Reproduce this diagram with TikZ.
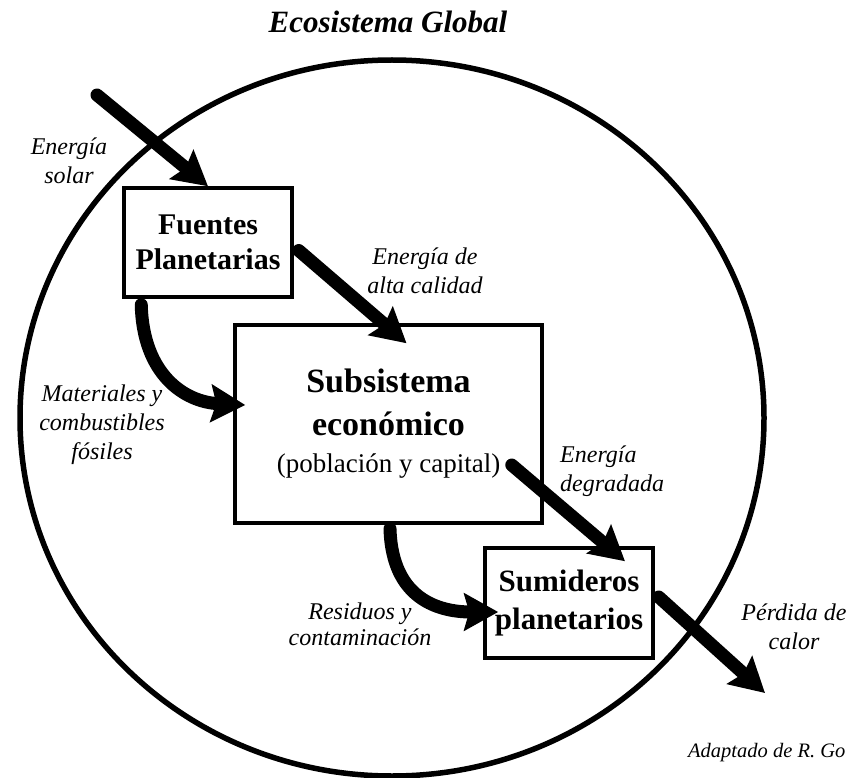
\documentclass[tikz,border=0pt]{standalone}
\usepackage{fontspec}
\setmainfont{Liberation Serif}
\usetikzlibrary{arrows.meta,calc,shapes.geometric}
\begin{document}
\begin{tikzpicture}[x=1pt,y=-1pt,
  box/.style={draw,line width=3.5pt,align=center,inner sep=0pt,font=\bfseries},
  lbl/.style={align=center,font=\itshape\fontsize{24}{29}\selectfont,inner sep=0pt},
  flow/.style={line width=13pt,line cap=round,-{Stealth[length=34pt,width=37pt,inset=5pt]}}]
\useasboundingbox (0,0) rectangle (851,778);
% global ecosystem
\node (eco) [draw,ellipse,line width=5.5pt,minimum width=744pt,minimum height=716pt,inner sep=0pt] at (392,418) {};
\node (title) [font=\bfseries\itshape\fontsize{31}{36}\selectfont,anchor=base] at (388,33) {Ecosistema Global};
% boxes
\node (fuentes) [box,minimum width=168pt,minimum height=109pt,font=\bfseries\fontsize{30}{35}\selectfont] at (208,242.5) {Fuentes\\Planetarias};
\node (subs) [box,minimum width=307pt,minimum height=198pt,font=\bfseries\fontsize{34}{43}\selectfont] at (388.5,424)
  {Subsistema\\económico\\[-6pt]{\mdseries\fontsize{27}{32}\selectfont (población y capital)}};
\node (sum) [box,minimum width=168pt,minimum height=110pt,font=\bfseries\fontsize{31}{38}\selectfont] at (569,603) {Sumideros\\planetarios};
% free ends
\coordinate (sol) at (97,95);
\coordinate (calor) at (765,693);
% flows
\draw[flow] (sol) -- (fuentes.north);
\draw[flow] ($(fuentes.east)+(5,8)$) -- ($(subs.north)+(18,20)$);
\draw[flow] ($(fuentes.south west)+(19,6)$) .. controls (143,375) and (185,402) .. ($(subs.west)+(12,-19)$);
\draw[flow] ($(subs.east)+(-32,41)$) -- ($(sum.north)+(56,15)$);
\draw[flow] ($(subs.south)+(1.5,4)$) .. controls (392,600) and (440,612) .. ($(sum.west)+(15,9)$);
\draw[flow] ($(sum.east)+(4,-6)$) -- (calor);
% labels
\node (lsol) [lbl] at (69,160.5) {Energía\\solar};
\node (lalta) [lbl] at (425,271) {Energía de\\alta calidad};
\node (lmat) [lbl] at (102,425) {Materiales y\\combustibles\\fósiles};
\node (ldeg) [lbl,align=left,anchor=west] at (560,471.5) {Energía\\degradada};
\node (lres) [lbl,font=\itshape\fontsize{24}{26}\selectfont] at (360,624) {Residuos y\\contaminación};
\node (lcal) [lbl] at (794,626.5) {Pérdida de\\calor};
\node (src) [font=\itshape\fontsize{20.5}{24}\selectfont,anchor=base west,inner sep=0pt] at (688,757) {Adaptado de R. Go};
\end{tikzpicture}
\end{document}
